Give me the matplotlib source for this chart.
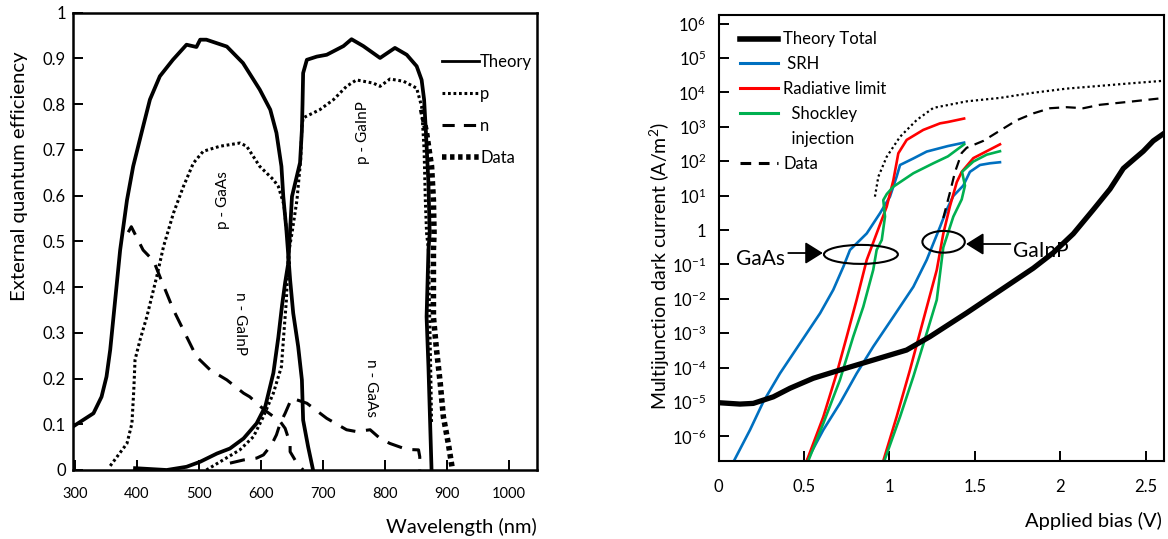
import numpy as np
import matplotlib
matplotlib.use('Agg')
import matplotlib.pyplot as plt
from matplotlib.lines import Line2D
from matplotlib.patches import Ellipse
from matplotlib.ticker import NullLocator

plt.rcParams['font.family'] = ['Lato', 'DejaVu Sans']
plt.rcParams['mathtext.fontset'] = 'custom'
plt.rcParams['mathtext.rm'] = 'Lato'
plt.rcParams['mathtext.it'] = 'Lato:italic'
plt.rcParams['mathtext.bf'] = 'Lato:bold'

# ---------------- left: external quantum efficiency ----------------
theory1_nm = [297, 330, 343, 351, 357, 365, 373, 384, 394, 410, 421, 437, 458, 480, 496, 502,
              512, 545, 571, 598, 615, 625, 633, 636, 641, 647, 652, 660, 666, 668, 676, 684]
theory1_eqe = [0.095, 0.124, 0.16, 0.204, 0.263, 0.372, 0.481, 0.59, 0.664, 0.751, 0.81, 0.861,
               0.897, 0.930, 0.925, 0.941, 0.941, 0.926, 0.89, 0.832, 0.788, 0.737, 0.664, 0.598,
               0.525, 0.416, 0.343, 0.27, 0.197, 0.109, 0.051, 0.0]

theory2_nm = [397, 448, 480, 502, 529, 550, 572, 593, 607, 620, 628, 634, 639, 644, 647, 650,
              663, 666, 667, 668, 674, 690, 706, 733, 746, 765, 792, 816, 835, 851, 859, 863,
              866, 870, 872, 870, 867, 870, 875]
theory2_eqe = [0.004, 0.0, 0.007, 0.018, 0.036, 0.047, 0.069, 0.102, 0.139, 0.212, 0.29, 0.36,
               0.41, 0.452, 0.525, 0.598, 0.672, 0.744, 0.80, 0.868, 0.897, 0.904, 0.908, 0.927,
               0.942, 0.927, 0.901, 0.923, 0.908, 0.883, 0.853, 0.81, 0.737, 0.627, 0.518, 0.481,
               0.335, 0.226, 0.0]

p1_nm = [357, 384, 392, 395, 397, 405, 416, 432, 443, 459, 475, 491, 507, 534, 566, 577, 598,
         620, 628, 637, 643, 646]
p1_eqe = [0.009, 0.058, 0.102, 0.175, 0.241, 0.284, 0.335, 0.423, 0.489, 0.562, 0.62, 0.671,
          0.697, 0.708, 0.715, 0.708, 0.664, 0.635, 0.62, 0.58, 0.50, 0.45]

p2_nm = [512, 539, 566, 588, 604, 620, 633, 637, 641, 644, 650, 658, 664, 666, 668, 695, 717,
         738, 754, 781, 792, 808, 830, 851, 859, 863, 865, 867, 870, 872, 874, 875]
p2_eqe = [0.0, 0.022, 0.044, 0.073, 0.117, 0.168, 0.226, 0.30, 0.372, 0.47, 0.518, 0.59, 0.678,
          0.751, 0.77, 0.788, 0.81, 0.839, 0.853, 0.846, 0.839, 0.855, 0.85, 0.835, 0.795, 0.70,
          0.59, 0.518, 0.481, 0.335, 0.19, 0.102]

n1_nm = [386, 391, 410, 427, 437, 459, 480, 496, 518, 545, 572, 582, 599, 609, 631, 639, 647,
         647, 658, 668]
n1_eqe = [0.52, 0.532, 0.481, 0.457, 0.423, 0.35, 0.292, 0.248, 0.219, 0.197, 0.168, 0.16,
          0.139, 0.128, 0.106, 0.091, 0.058, 0.04, 0.015, 0.0]

n2_nm = [550, 572, 593, 604, 617, 625, 631, 639, 647, 650, 674, 706, 738, 754, 776, 792, 808,
         835, 854, 856, 856]
n2_eqe = [0.015, 0.022, 0.026, 0.033, 0.055, 0.077, 0.102, 0.124, 0.149, 0.157, 0.146, 0.113,
          0.088, 0.084, 0.088, 0.069, 0.058, 0.045, 0.044, 0.029, 0.0]

data_nm = [859, 867, 875, 878, 879, 878, 878, 883, 889, 894, 902, 908]
data_eqe = [0.788, 0.737, 0.664, 0.59, 0.518, 0.481, 0.335, 0.263, 0.19, 0.117, 0.058, 0.007]

wl_ticks = [300, 400, 500, 600, 700, 800, 900, 1000]
eqe_ticks = [0, 0.1, 0.2, 0.3, 0.4, 0.5, 0.6, 0.7, 0.8, 0.9, 1]
eqe_labels = ['0', '0.1', '0.2', '0.3', '0.4', '0.5', '0.6', '0.7', '0.8', '0.9', '1']

# ---------------- right: dark current (log10 of A/m2) ----------------
total_v = [0.0, 0.125, 0.203, 0.32, 0.418, 0.554, 0.71, 0.905, 1.10, 1.237, 1.452, 1.647, 1.842,
           1.959, 2.076, 2.193, 2.291, 2.369, 2.427, 2.486, 2.544, 2.61]
total_exp = [-5.02, -5.06, -5.04, -4.85, -4.6, -4.31, -4.07, -3.78, -3.49, -3.10, -2.41, -1.76,
             -1.11, -0.66, -0.11, 0.59, 1.19, 1.79, 2.04, 2.29, 2.59, 2.82]

srh_gaas_v = [0.092, 0.184, 0.262, 0.359, 0.457, 0.594, 0.671, 0.73, 0.769, 0.867, 0.945, 1.003,
              1.042, 1.062, 1.14, 1.218, 1.342, 1.437]
srh_gaas_exp = [-6.69, -5.81, -4.99, -4.17, -3.44, -2.42, -1.74, -1.07, -0.58, -0.10, 0.49, 0.97,
                1.55, 1.89, 2.08, 2.28, 2.44, 2.54]

rad_gaas_v = [0.516, 0.613, 0.691, 0.75, 0.808, 0.867, 0.925, 0.984, 1.023, 1.052, 1.101, 1.198,
              1.296, 1.342, 1.437]
rad_gaas_exp = [-6.71, -5.43, -4.17, -3.10, -2.03, -0.87, -0.10, 0.68, 1.45, 2.23, 2.62, 2.91,
                3.10, 3.14, 3.24]

sh_gaas_v = [0.525, 0.613, 0.71, 0.788, 0.847, 0.905, 0.925, 0.955, 0.974, 0.964, 0.985, 1.023,
             1.14, 1.257, 1.342, 1.437]
sh_gaas_exp = [-6.71, -5.62, -4.36, -3.10, -2.23, -1.16, -0.58, -0.29, 0.39, 0.87, 1.05, 1.26,
               1.65, 1.94, 2.14, 2.49]

srh_gainp_v = [0.516, 0.613, 0.71, 0.808, 0.905, 1.023, 1.14, 1.218, 1.296, 1.335, 1.374, 1.432,
               1.471, 1.53, 1.589, 1.647]
srh_gainp_exp = [-6.71, -5.81, -5.04, -4.17, -3.39, -2.52, -1.65, -0.87, 0.09, 0.59, 0.99, 1.29,
                 1.69, 1.89, 1.94, 1.97]

rad_gainp_v = [0.964, 1.042, 1.12, 1.198, 1.277, 1.315, 1.354, 1.394, 1.423, 1.491, 1.569, 1.647]
rad_gainp_exp = [-6.71, -5.43, -4.07, -2.62, -1.16, -0.11, 0.69, 1.39, 1.69, 2.09, 2.29, 2.49]

sh_gainp_v = [0.97, 1.062, 1.14, 1.218, 1.277, 1.315, 1.374, 1.423, 1.442, 1.425, 1.491, 1.569,
              1.647]
sh_gainp_exp = [-6.71, -5.43, -4.26, -3.0, -2.03, -0.51, 0.39, 0.89, 1.29, 1.69, 1.99, 2.19, 2.29]

dot_v = [0.915, 0.935, 0.984, 1.062, 1.16, 1.257, 1.452, 1.647, 1.842, 2.037, 2.232, 2.427, 2.61]
dot_exp = [0.97, 1.55, 2.13, 2.71, 3.20, 3.55, 3.74, 3.84, 3.99, 4.11, 4.19, 4.27, 4.34]

dash_v = [1.315, 1.354, 1.384, 1.423, 1.452, 1.549, 1.647, 1.745, 1.842, 1.94, 2.037, 2.135,
          2.232, 2.427, 2.61]
dash_exp = [0.35, 1.09, 1.69, 2.24, 2.39, 2.59, 2.89, 3.19, 3.39, 3.54, 3.57, 3.54, 3.64, 3.74,
            3.84]

bias_ticks = [0, 0.5, 1, 1.5, 2, 2.5]
bias_labels = ['0', '0.5', '1', '1.5', '2', '2.5']
decades = list(range(-6, 7))

blue = '#0070C0'
red = '#FF0000'
green = '#00B050'

fig = plt.figure(figsize=(11.68, 5.39), dpi=100)

# ===== left panel =====
ax1 = fig.add_axes([73 / 1168, 69 / 539, 464 / 1168, 457.3 / 539])
ax1.plot(theory1_nm, theory1_eqe, color='black', lw=2.7, solid_joinstyle='round')
ax1.plot(theory2_nm, theory2_eqe, color='black', lw=2.7, solid_joinstyle='round')
ax1.plot(p1_nm, p1_eqe, color='black', lw=2.2, linestyle=(0, (0.9, 0.9)))
ax1.plot(p2_nm, p2_eqe, color='black', lw=2.2, linestyle=(0, (0.9, 0.9)))
ax1.plot(n1_nm, n1_eqe, color='black', lw=2.2, linestyle=(0, (5, 3.5)))
ax1.plot(n2_nm, n2_eqe, color='black', lw=2.2, linestyle=(0, (5, 3.5)))
ax1.plot(data_nm, data_eqe, color='black', lw=4, linestyle=(0, (0.8, 0.65)))

ax1.set_xlim(297, 1045)
ax1.set_ylim(0, 1.0)
ax1.set_xticks(wl_ticks)
ax1.set_xticklabels([str(t) for t in wl_ticks])
ax1.set_yticks(eqe_ticks)
ax1.set_yticklabels(eqe_labels)
ax1.tick_params(axis='x', direction='in', length=7, width=1.4, pad=12, labelsize=10.5)
ax1.tick_params(axis='y', direction='in', length=7, width=1.4, pad=5, labelsize=12)
for s in ax1.spines.values():
    s.set_linewidth(1.8)

ax1.set_ylabel('External quantum efficiency', fontsize=14.6, va='center')
ax1.yaxis.set_label_coords(-0.116, 0.643)
ax1.set_xlabel('Wavelength (nm)', fontsize=14.5, ha='right', va='center')
ax1.xaxis.set_label_coords(1.0, -0.124)

ax1.text(539, 0.591, 'p - GaAs', rotation=90, ha='center', va='center', fontsize=11)
ax1.text(566, 0.321, 'n - GaInP', rotation=-90, ha='center', va='center', fontsize=11)
ax1.text(765, 0.737, 'p - GaInP', rotation=90, ha='center', va='center', fontsize=11)
ax1.text(778, 0.179, 'n - GaAs', rotation=-90, ha='center', va='center', fontsize=11)

h_left = [Line2D([], [], color='black', lw=2.0),
          Line2D([], [], color='black', lw=2.2, linestyle=(0, (0.9, 0.9))),
          Line2D([], [], color='black', lw=2.2, linestyle=(0, (4, 3))),
          Line2D([], [], color='black', lw=4, linestyle=(0, (0.8, 0.65)))]
ax1.legend(h_left, ['Theory', 'p', 'n', 'Data'], loc='upper left',
           bbox_to_anchor=(0.795, 0.909), frameon=False, fontsize=12, handlelength=2.2,
           handletextpad=0.1, labelspacing=0.95, borderpad=0, borderaxespad=0)

# ===== right panel =====
ax2 = fig.add_axes([718.6 / 1168, 78.3 / 539, 445.4 / 1168, 445.7 / 539])
ax2.set_yscale('log')
ax2.plot(total_v, 10.0 ** np.array(total_exp), color='black', lw=3.8, label='Theory Total',
         zorder=3)
ax2.plot(srh_gaas_v, 10.0 ** np.array(srh_gaas_exp), color=blue, lw=1.9)
ax2.plot(srh_gainp_v, 10.0 ** np.array(srh_gainp_exp), color=blue, lw=1.9)
ax2.plot(rad_gaas_v, 10.0 ** np.array(rad_gaas_exp), color=red, lw=1.9)
ax2.plot(rad_gainp_v, 10.0 ** np.array(rad_gainp_exp), color=red, lw=1.9)
ax2.plot(sh_gaas_v, 10.0 ** np.array(sh_gaas_exp), color=green, lw=1.9)
ax2.plot(sh_gainp_v, 10.0 ** np.array(sh_gainp_exp), color=green, lw=1.9)
ax2.plot(dot_v, 10.0 ** np.array(dot_exp), color='black', lw=1.6, linestyle=(0, (1, 1.3)))
ax2.plot(dash_v, 10.0 ** np.array(dash_exp), color='black', lw=1.6, linestyle=(0, (4.5, 3)))

ax2.set_xlim(0, 2.607)
ax2.set_ylim(10 ** -6.706, 10 ** 6.25)
ax2.set_xticks(bias_ticks)
ax2.set_xticklabels(bias_labels)
ax2.set_yticks([10.0 ** d for d in decades])
ax2.set_yticklabels(['1' if d == 0 else r'$\mathregular{10^{%d}}$' % d for d in decades])
ax2.yaxis.set_minor_locator(NullLocator())
ax2.tick_params(axis='x', direction='in', length=7, width=1.4, pad=13, labelsize=12)
ax2.tick_params(axis='y', direction='in', length=7, width=1.4, pad=9, labelsize=12)
for s in ax2.spines.values():
    s.set_linewidth(1.5)

ax2.set_ylabel(r'Multijunction dark current (A/m$^2$)', fontsize=14, va='center')
ax2.yaxis.set_label_coords(-0.1316, 0.436)
ax2.set_xlabel('Applied bias (V)', fontsize=14.5, ha='right', va='center')
ax2.xaxis.set_label_coords(0.9946, -0.1348)

# ellipses around the cell curves, centred in data units
for cv, cexp, w, h in [(0.833, -0.709, 0.166, 0.0426), (1.317, -0.343, 0.0952, 0.0487)]:
    cx, cy = ax2.transAxes.inverted().transform(ax2.transData.transform((cv, 10 ** cexp)))
    ax2.add_patch(Ellipse((cx, cy), w, h, transform=ax2.transAxes, fill=False,
                          edgecolor='black', lw=1.5, zorder=4))

arrow = dict(arrowstyle='-|>,head_length=0.4,head_width=0.25', mutation_scale=27,
             color='black', lw=1.3, shrinkA=0, shrinkB=0)
ax2.annotate('GaAs', xy=(0.61, 10 ** -0.669), xytext=(0.248, 10 ** -0.843), fontsize=15,
             ha='center', va='center', arrowprops=dict(arrow, relpos=(1.0, 0.8)))
ax2.annotate('GaInP', xy=(1.448, 10 ** -0.407), xytext=(1.887, 10 ** -0.61), fontsize=15,
             ha='center', va='center', arrowprops=dict(arrow, relpos=(0.0, 0.85)))

h_right = [Line2D([], [], color='black', lw=4),
           Line2D([], [], color=blue, lw=2.2),
           Line2D([], [], color=red, lw=2.2),
           Line2D([], [], color=green, lw=2.2),
           Line2D([], [], linestyle='none'),
           Line2D([], [], color='black', lw=2.2, linestyle=(0, (3.5, 2.5)))]
ax2.legend(h_right, ['Theory Total', ' SRH', 'Radiative limit', '  Shockley', '  injection',
                     'Data'],
           loc='upper left', bbox_to_anchor=(0.048, 0.963), frameon=False, fontsize=12,
           handlelength=2.3, handletextpad=0.3, labelspacing=0.53, borderpad=0,
           borderaxespad=0)

fig.savefig('out.png', dpi=100)
